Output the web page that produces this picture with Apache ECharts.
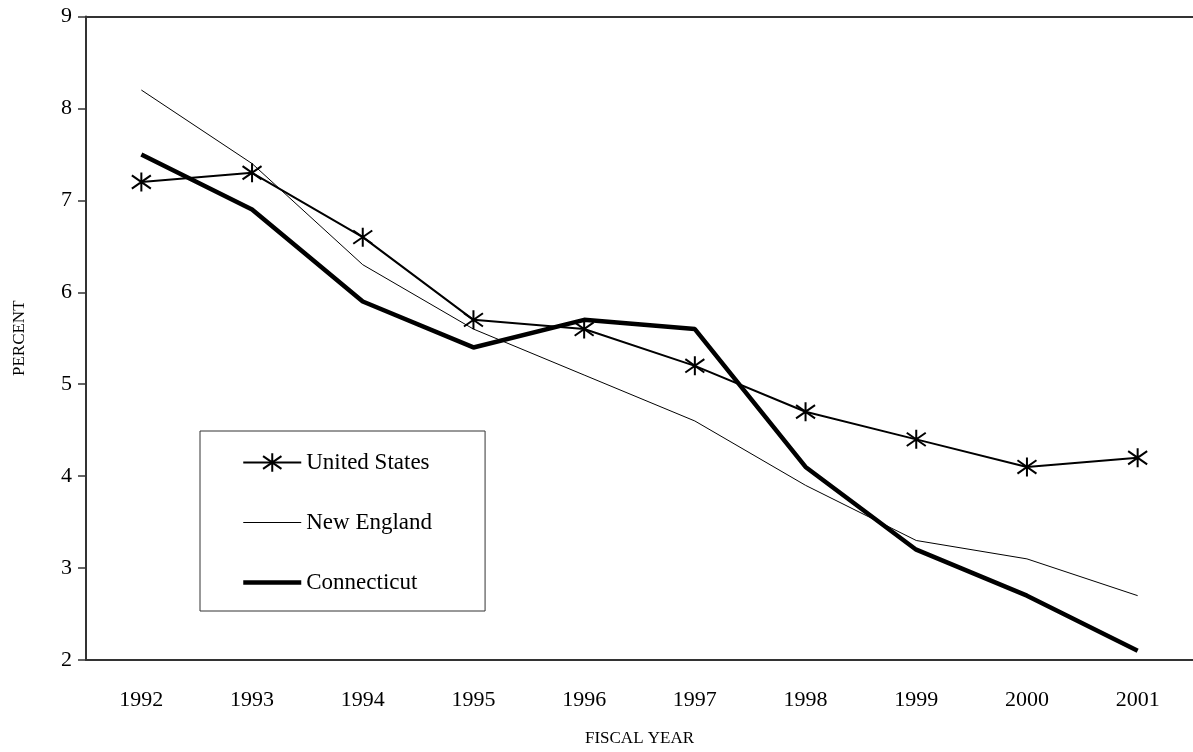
<!DOCTYPE html>
<html>
<head>
<meta charset="utf-8">
<script src="https://cdn.jsdelivr.net/npm/echarts@6/dist/echarts.min.js"></script>
<style>
  html, body { margin: 0; padding: 0; background: #fff; }
  #chart { width: 1193px; height: 752px; }
</style>
</head>
<body>
<div id="chart"></div>
<script>
// Fiscal years on the category axis
const years = ['1992', '1993', '1994', '1995', '1996', '1997', '1998', '1999', '2000', '2001'];

// Percent values per region
const unitedStates = [7.2, 7.3, 6.6, 5.7, 5.6, 5.2, 4.7, 4.4, 4.1, 4.2];
const newEngland   = [8.2, 7.4, 6.3, 5.6, 5.1, 4.6, 3.9, 3.3, 3.1, 2.7];
const connecticut  = [7.5, 6.9, 5.9, 5.4, 5.7, 5.6, 4.1, 3.2, 2.7, 2.1];

// Y axis range and step
const yMin = 2, yMax = 9, yStep = 1;

const serif = '"Liberation Serif", "Times New Roman", serif';
const axisColor = '#333';

// Line weights per series
const widthUS = 2, widthNE = 1, widthCT = 4.5;

// Asterisk marker: a vertical stroke crossed by two diagonals
const asterisk = 'path://M10,0 L10,20 M3,3 L17,17 M3,17 L17,3';

// Legend entries for plain lines hide their symbol, keeping only the line
const hiddenSymbol = { opacity: 0 };

const chart = echarts.init(document.getElementById('chart'));
chart.setOption({
  animation: false,
  backgroundColor: '#fff',
  grid: { left: 86, top: 16.5, width: 1110, bottom: 89.5 },
  legend: {
    orient: 'vertical',
    left: 200,
    top: 431,
    padding: [20, 53, 17, 41],
    itemGap: 37,
    itemWidth: 58,
    itemHeight: 23,
    borderColor: '#333',
    borderWidth: 1,
    backgroundColor: '#fff',
    textStyle: { fontFamily: serif, fontSize: 23, color: '#000' },
    data: [
      { name: 'United States', lineStyle: { width: widthUS } },
      { name: 'New England', itemStyle: hiddenSymbol, lineStyle: { width: widthNE } },
      { name: 'Connecticut', itemStyle: hiddenSymbol, lineStyle: { width: widthCT } }
    ]
  },
  xAxis: [
    {
      type: 'category',
      data: years,
      boundaryGap: true,
      position: 'bottom',
      axisLine: { lineStyle: { color: axisColor, width: 2 } },
      axisTick: { show: false },
      axisLabel: { fontFamily: serif, fontSize: 22, color: '#000', margin: 29 },
      name: 'FISCAL YEAR',
      nameLocation: 'middle',
      nameGap: 70,
      nameTextStyle: { fontFamily: serif, fontSize: 17, color: '#000' }
    },
    {
      type: 'category',
      data: years,
      position: 'top',
      axisLine: { lineStyle: { color: axisColor, width: 2 } },
      axisTick: { show: false },
      axisLabel: { show: false }
    }
  ],
  yAxis: {
    type: 'value',
    min: yMin,
    max: yMax,
    interval: yStep,
    axisLine: { show: true, lineStyle: { color: axisColor, width: 2 } },
    axisTick: { show: true, length: 8, lineStyle: { color: axisColor, width: 1.5 } },
    splitLine: { show: false },
    axisLabel: { fontFamily: serif, fontSize: 22, color: '#000', margin: 14 },
    name: 'PERCENT',
    nameLocation: 'middle',
    nameGap: 58,
    nameRotate: 90,
    nameTextStyle: { fontFamily: serif, fontSize: 17, color: '#000' }
  },
  series: [
    {
      name: 'New England',
      type: 'line',
      data: newEngland,
      symbol: 'circle',
      showSymbol: false,
      lineStyle: { color: '#000', width: widthNE },
      itemStyle: { color: '#000' },
      z: 2
    },
    {
      name: 'United States',
      type: 'line',
      data: unitedStates,
      symbol: asterisk,
      symbolSize: 19,
      showSymbol: true,
      lineStyle: { color: '#000', width: widthUS },
      itemStyle: { color: '#000', borderColor: '#000', borderWidth: 2 },
      z: 3
    },
    {
      name: 'Connecticut',
      type: 'line',
      data: connecticut,
      symbol: 'circle',
      showSymbol: false,
      lineStyle: { color: '#000', width: widthCT },
      itemStyle: { color: '#000' },
      z: 4
    }
  ]
});
</script>
</body>
</html>
